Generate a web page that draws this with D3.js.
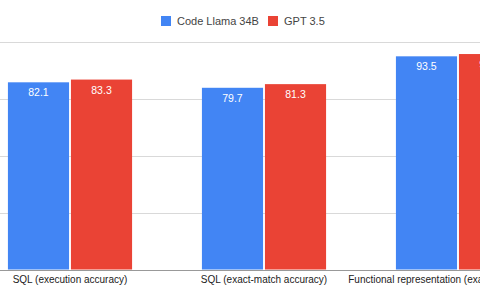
<!DOCTYPE html>
<html>
<head>
<meta charset="utf-8">
<script src="https://cdn.jsdelivr.net/npm/d3@7"></script>
<style>
  body { margin: 0; background: #fff; }
  svg { display: block; font-family: Arial, "Liberation Sans", sans-serif; }
</style>
</head>
<body>
<script>
let width = 480;
let height = 300;

var categories = ['SQL (execution accuracy)', 'SQL (exact-match accuracy)', 'Functional representation (exact-match accuracy)'];
var seriesNames = ['Code Llama 34B', 'GPT 3.5'];
var llamaValues = [82.1, 79.7, 93.5];
var gptValues = [83.3, 81.3, 94.5];
var colors = ['#4285f4', '#ea4335'];
var yTicks = [0, 25, 50, 75, 100];

var svg = d3.select('body')
            .append('svg')
            .attr('width', width)
            .attr('height', height);

// the chart is wider than the window, so the band range spills past both edges
var x = d3.scaleBand()
          .domain(categories)
          .range([-27, -27 + 194 * categories.length])
          .paddingInner(0.36)
          .paddingOuter(0.18);

var xs = d3.scaleBand()
           .domain(seriesNames)
           .range([0, x.bandwidth()])
           .paddingInner(0.03);

var y = d3.scaleLinear()
          .domain([0, 100])
          .range([269.5, 41.5]);

// gridlines
svg.append('g')
   .selectAll('line')
   .data(yTicks.slice(1))
   .join('line')
   .attr('x1', 0).attr('x2', width)
   .attr('y1', d => Math.round(y(d)) + 0.5)
   .attr('y2', d => Math.round(y(d)) + 0.5)
   .attr('stroke', '#d9d9d9')
   .attr('stroke-width', 1);

var rows = categories.map((c, i) => ({ cat: c, values: [llamaValues[i], gptValues[i]] }));

var groups = svg.append('g')
                .selectAll('g')
                .data(rows)
                .join('g')
                .attr('transform', d => 'translate(' + x(d.cat) + ',0)');

groups.selectAll('rect')
      .data(d => d.values.map((v, j) => ({ name: seriesNames[j], value: v, color: colors[j] })))
      .join('rect')
      .attr('x', d => xs(d.name))
      .attr('y', d => y(d.value))
      .attr('width', xs.bandwidth())
      .attr('height', d => y(0) - y(d.value))
      .attr('fill', d => d.color);

groups.selectAll('text.val')
      .data(d => d.values.map((v, j) => ({ name: seriesNames[j], value: v })))
      .join('text')
      .attr('class', 'val')
      .attr('x', d => xs(d.name) + xs.bandwidth() / 2)
      .attr('y', d => y(d.value) + 14)
      .attr('text-anchor', 'middle')
      .attr('font-size', 10.5)
      .attr('fill', '#fff')
      .text(d => d.value.toFixed(1));

// x axis
var xAxis = svg.append('g')
               .attr('transform', 'translate(0,' + Math.round(y(0)) + ')')
               .call(d3.axisBottom(x).tickSize(0).tickPadding(6));
xAxis.select('.domain').remove();
xAxis.append('line')
     .attr('x1', 0).attr('x2', width)
     .attr('y1', 0.5).attr('y2', 0.5)
     .attr('stroke', '#999');
xAxis.selectAll('text')
     .attr('font-size', 10)
     .attr('font-family', 'Arial, "Liberation Sans", sans-serif')
     .attr('fill', '#222');

// legend
var legend = svg.append('g');
var legendX = [161, 268];
seriesNames.forEach(function(name, i) {
  legend.append('rect')
        .attr('x', legendX[i]).attr('y', 16)
        .attr('width', 10).attr('height', 10)
        .attr('fill', colors[i]);
  legend.append('text')
        .attr('x', legendX[i] + 16).attr('y', 25)
        .attr('font-size', 11)
        .attr('fill', '#444')
        .text(name);
});
</script>
</body>
</html>
